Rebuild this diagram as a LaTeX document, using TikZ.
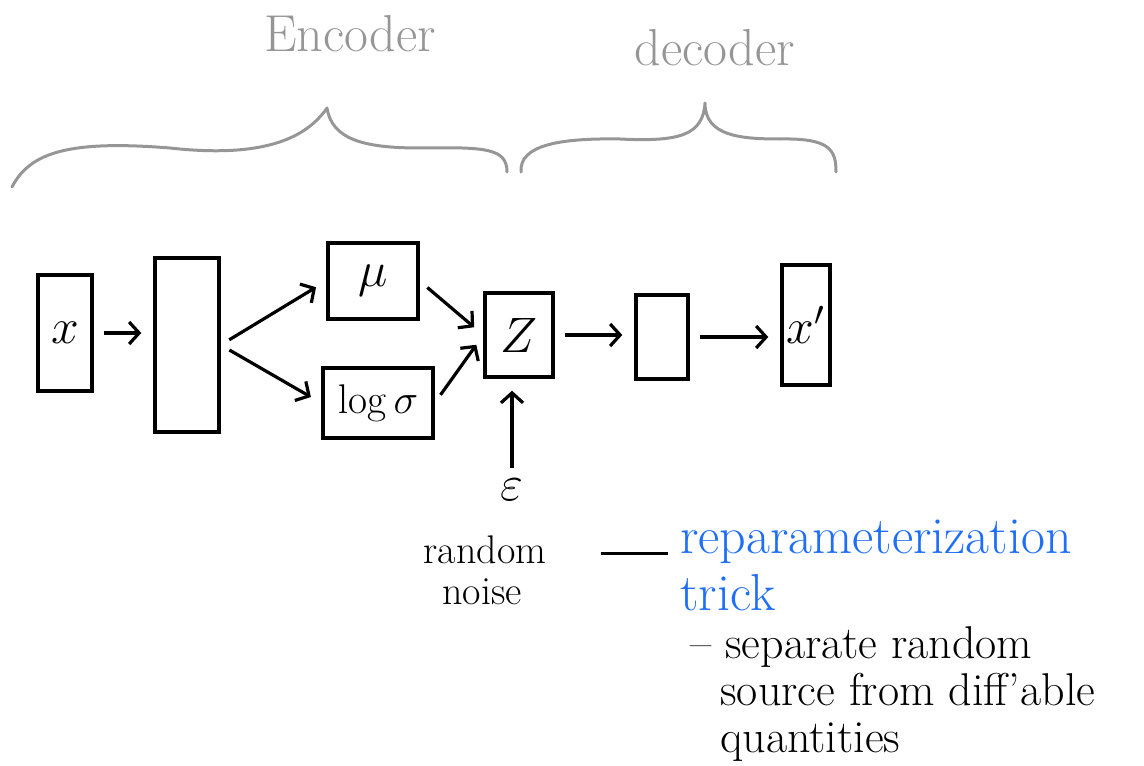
\documentclass[tikz,border=0pt]{standalone}
\usepackage{tikz}
\usetikzlibrary{arrows.meta,positioning}
\usepackage{xcolor}
\usepackage{amsmath}
\definecolor{brace}{HTML}{969696}
\definecolor{trick}{HTML}{1E6EFA}

\begin{document}
\begin{tikzpicture}[x=0.5pt,y=-0.5pt,
  box/.style={draw,line width=1.7pt,inner sep=0pt},
  arr/.style={-{Straight Barb[length=5pt,width=11pt]},line width=1.6pt,shorten <=5pt,shorten >=6pt},
  curly/.style={brace,line width=1.5pt,line cap=round,line join=round},
  head/.style={brace,font=\fontsize{26}{30}\selectfont,anchor=base},
  note/.style={font=\fontsize{20}{24}\selectfont,anchor=base west,inner sep=0pt},
  bignote/.style={note,font=\fontsize{23}{27}\selectfont},
]
  \useasboundingbox (0,0) rectangle (1144,765);

  % network blocks
  \node[box,minimum width=27pt,minimum height=58pt] (xin) at (65,333) {\fontsize{26}{30}\selectfont$x$};
  \node[box,minimum width=32pt,minimum height=87pt] (hid) at (187,345) {};
  \node[box,minimum width=45pt,minimum height=38pt] (mu) at (373,281) {\fontsize{28}{30}\selectfont$\mu$};
  \node[box,minimum width=55pt,minimum height=35pt] (logsig) at (378,403) {\fontsize{22}{26}\selectfont$\log\sigma$};
  \node[box,minimum width=34pt,minimum height=42pt] (z) at (519,335) {\fontsize{28}{30}\selectfont$Z$};
  \node[box,minimum width=26pt,minimum height=42pt] (dec) at (662,337) {};
  \node[box,minimum width=24pt,minimum height=60pt] (xout) at (806,325) {\fontsize{26}{30}\selectfont$x'$};
  \node (eps) at (512,490) {\fontsize{30}{32}\selectfont$\varepsilon$};

  \draw[arr] (xin.east) -- (xin.east -| hid.west);
  \draw[arr] (hid.east) -- (mu.west);
  \draw[arr] (hid.east) -- (logsig.west);
  \draw[arr] (mu.east) -- (z.west);
  \draw[arr] (logsig.east) -- (z.west);
  \draw[arr,shorten <=2pt] (eps.north) -- (eps.north |- z.south);
  \draw[arr] (z.east) -- (z.east -| dec.west);
  \draw[arr] (dec.east) -- (dec.east -| xout.west);

  % braces over both halves
  \draw[curly] (12,187) .. controls (30,152) and (70,140) .. (170,148)
    .. controls (260,158) and (305,140) .. (327,108)
    .. controls (332,140) and (365,148) .. (420,148)
    .. controls (485,147) and (507,148) .. (507,172);
  \draw[curly] (521,172) .. controls (519,145) and (560,138) .. (620,139)
    .. controls (680,142) and (703,135) .. (705,103)
    .. controls (705,136) and (740,139) .. (780,139)
    .. controls (830,138) and (836,150) .. (836,172);
  \node[head] (enclabel) at (350,52) {Encoder};
  \node[head] (declabel) at (715,66) {decoder};

  % notes
  \node[note,anchor=base] (rnd) at (485,563) {random};
  \node[note,anchor=base] (noi) at (482,604) {noise};
  \node[bignote,trick,font=\fontsize{26}{30}\selectfont] (rep) at (680,553) {reparameterization};
  \node[bignote,trick,font=\fontsize{26}{30}\selectfont] (trk) at (680,610) {trick};
  \draw[line width=1.5pt,shorten <=27pt,shorten >=6pt] (rnd.east |- rep.base) -- (rep.base west);

  \node[bignote] (sep) at (725,658) {separate random};
  \node[bignote] (bullet) at (690,658) {--};
  \node[bignote] (src) at (720,705) {source from diff'able};
  \node[bignote] (qty) at (720,752) {quantities};
\end{tikzpicture}
\end{document}
